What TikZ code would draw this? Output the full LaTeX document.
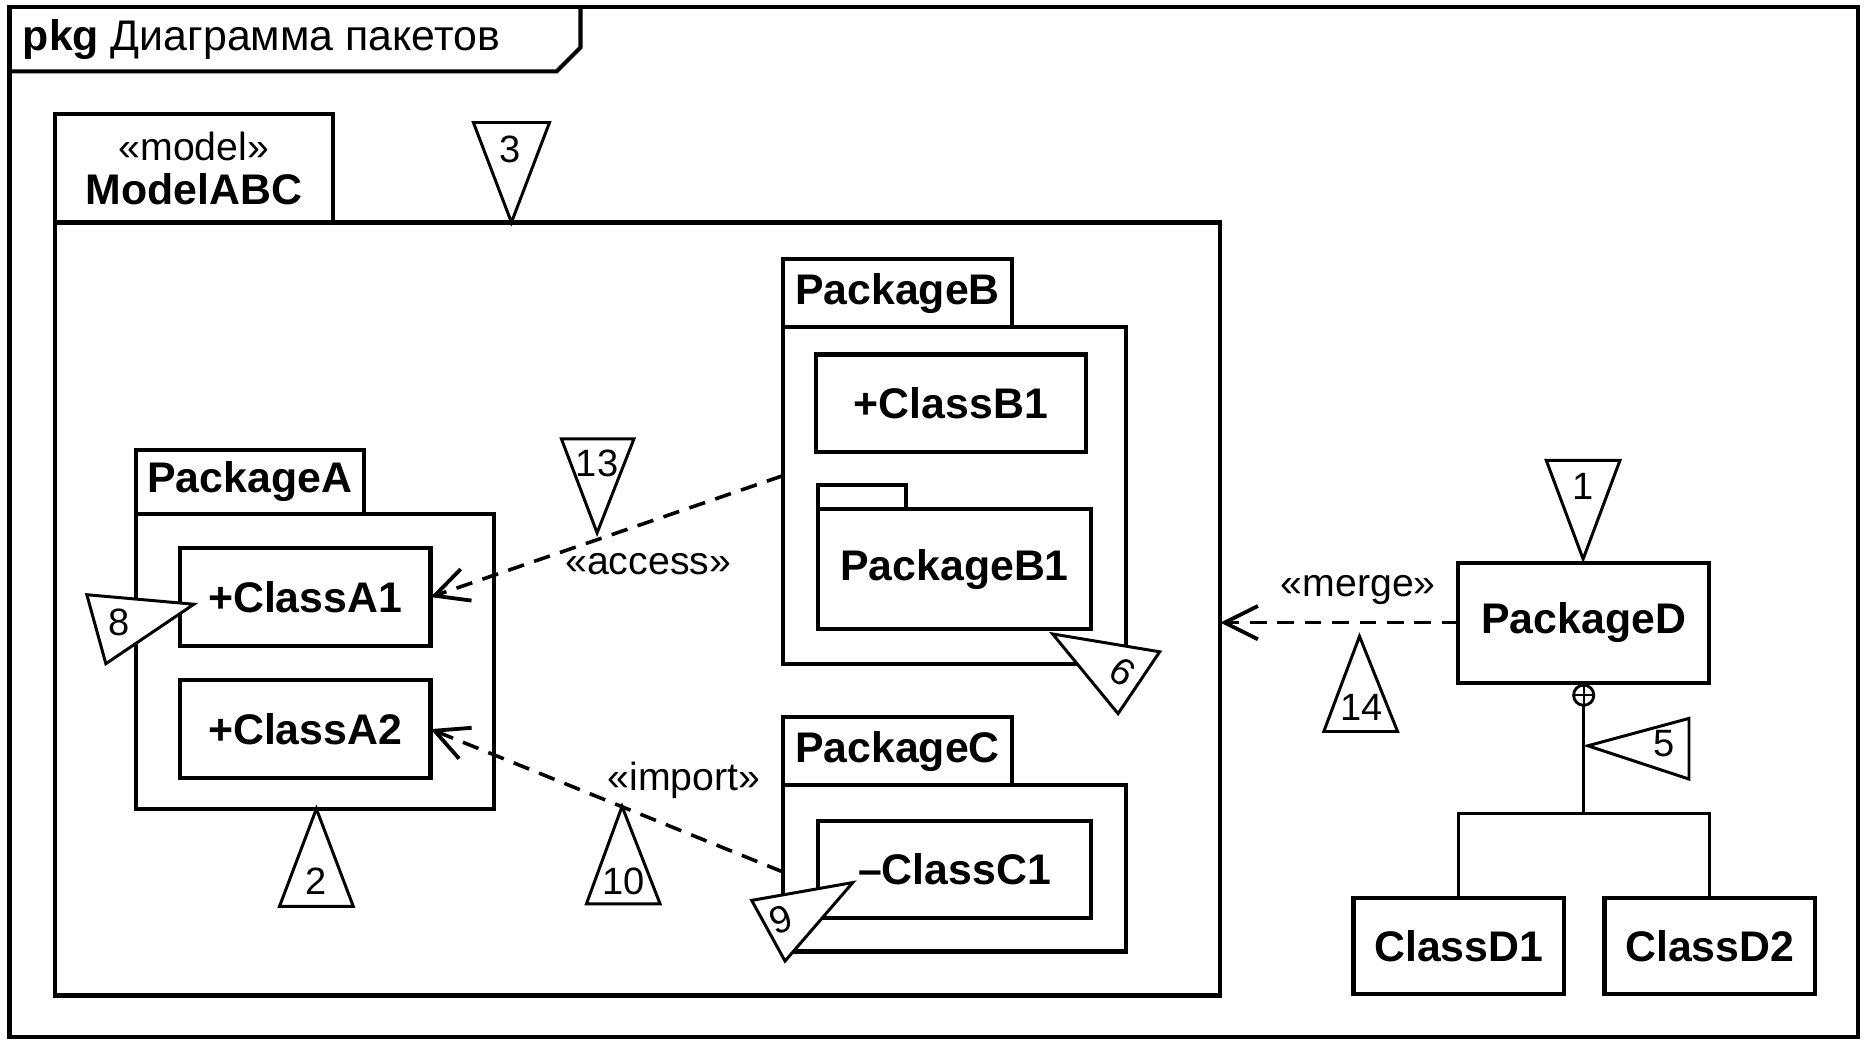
\documentclass[tikz,border=0pt]{standalone}
\usepackage{fontspec}
\setmainfont{Liberation Sans}
\usetikzlibrary{arrows.meta,calc}
\begin{document}
\begin{tikzpicture}[x=1pt,y=-1pt,
  regf/.style={font=\fontsize{33}{38}\selectfont},
  boldf/.style={font=\fontsize{36}{40}\selectfont\bfseries},
  box/.style={draw, line width=3.5pt, fill=white, inner sep=0pt, outer sep=0pt, boldf},
  tab/.style={draw, line width=3.5pt, fill=white, inner sep=0pt, outer sep=0pt, boldf, anchor=south west},
  dep/.style={line width=3pt, dash pattern=on 14pt off 9pt,
    -{Straight Barb[length=28pt,width=28pt,line width=3.2pt]}},
  ptr/.style={draw, line width=2.5pt, fill=white, line join=miter},
  num/.style={font=\fontsize{32}{36}\selectfont, inner sep=0pt},
  lbl/.style={regf, inner sep=1pt},
  thinline/.style={line width=2.5pt}
]
\useasboundingbox (0,0) rectangle (1568,875);
\fill[white] (0,0) rectangle (1568,875);

% outer frame and its name tab
\draw[line width=3.5pt] (8,6) rectangle (1562,872);
\draw[line width=3.5pt] (8,60) -- (468,60) -- (488,40) -- (488,6);
\node[font=\fontsize{36}{40}\selectfont, anchor=west, inner sep=0pt] (title) at (19,33) {\textbf{pkg} Диаграмма пакетов};

% model ModelABC
\node[box, minimum width=980pt, minimum height=650pt] (model) at (536,512) {};
\node[tab, minimum width=234pt, minimum height=91pt, align=center, font=\fontsize{33}{38}\selectfont] (modeltab) at (model.north west)
  {«model»\\[-1pt]\fontsize{36}{40}\selectfont\bfseries ModelABC};

% PackageA
\node[box, minimum width=301pt, minimum height=248pt] (pkgA) at (264.5,556) {};
\node[tab, minimum width=192pt, minimum height=54pt] (pkgAtab) at (pkgA.north west) {PackageA};
\node[box, minimum width=211pt, minimum height=82pt] (classA1) at (256.5,502) {+ClassA1};
\node[box, minimum width=211pt, minimum height=82pt] (classA2) at (256.5,613) {+ClassA2};

% PackageB
\node[box, minimum width=289pt, minimum height=283pt] (pkgB) at (802.5,416.5) {};
\node[tab, minimum width=193pt, minimum height=57pt] (pkgBtab) at (pkgB.north west) {PackageB};
\node[box, minimum width=227pt, minimum height=82pt] (classB1) at (799.5,339) {+ClassB1};
\node[box, minimum width=229pt, minimum height=101pt] (pkgB1) at (802.5,478.5) {PackageB1};
\node[tab, minimum width=74pt, minimum height=20pt] (pkgB1tab) at (pkgB1.north west) {};

% PackageC
\node[box, minimum width=289pt, minimum height=140pt] (pkgC) at (802.5,730) {};
\node[tab, minimum width=193pt, minimum height=57pt] (pkgCtab) at (pkgC.north west) {PackageC};
\node[box, minimum width=229pt, minimum height=82pt] (classC1) at (802.5,731) {–ClassC1};

% PackageD and its classes
\node[box, minimum width=211pt, minimum height=101pt] (pkgD) at (1331.5,523.5) {PackageD};
\node[box, minimum width=177pt, minimum height=81pt] (classD1) at (1226.5,795.5) {ClassD1};
\node[box, minimum width=177pt, minimum height=81pt] (classD2) at (1437.5,795.5) {ClassD2};

% containment (nesting) connector
\node[circle, draw, line width=2.4pt, fill=white, minimum size=17pt, inner sep=0pt, outer sep=0pt, anchor=north] (plus) at ([yshift=-2pt]pkgD.south) {};
\draw[line width=1.8pt] (plus.north) -- (plus.south) (plus.west) -- (plus.east);
\coordinate (junc) at (1331.5,684);
\draw[thinline] (plus.south) -- (junc);
\draw[thinline] (classD1.north) |- (junc) -| (classD2.north);

% dependencies
\coordinate (accS) at (658,400);
\coordinate (impS) at (658,733);
\draw[dep] (accS) -- (classA1.east);
\draw[dep] (impS) -- (classA2.east);
\draw[dep] (pkgD.west) -- (pkgD.west -| model.east);
\node[lbl] (accL) at (545,474) {«access»};
\node[lbl] (impL) at (575,656) {«import»};
\node[lbl] (merL) at (1142,496) {«merge»};

% numbered pointers
\draw[ptr] (398,103) -- (462,103) -- (430,187) -- cycle;
\node[num] (n3) at (429,126) {3};
\draw[ptr] (472,369) -- (533,369) -- (502,448) -- cycle;
\node[num] (n13) at (502,390) {13};
\draw[ptr] (1300,387) -- (1362,387) -- (1331,470) -- cycle;
\node[num] (n1) at (1331,409) {1};
\draw[ptr] (266,680) -- (297,762) -- (235,762) -- cycle;
\node[num] (n2) at (266,741) {2};
\draw[ptr] (523,678) -- (555,760) -- (493,760) -- cycle;
\node[num] (n10) at (524,741) {10};
\draw[ptr] (1143,535) -- (1175,615) -- (1113,615) -- cycle;
\node[num] (n14) at (1145,595) {14};
\draw[ptr] (1335,627) -- (1420,604) -- (1420,655) -- cycle;
\node[num] (n5) at (1399,625) {5};
\draw[ptr] (163,508) -- (73,500) -- (89,558) -- cycle;
\node[num] (n8) at (100,523) {8};
\draw[ptr] (885,533) -- (975,548) -- (940,600) -- cycle;
\node[num, rotate=-35] (n6) at (944,565) {6};
\draw[ptr] (717,742) -- (632,757) -- (660,808) -- cycle;
\node[num, rotate=20] (n9) at (657,773) {9};
\end{tikzpicture}
\end{document}
